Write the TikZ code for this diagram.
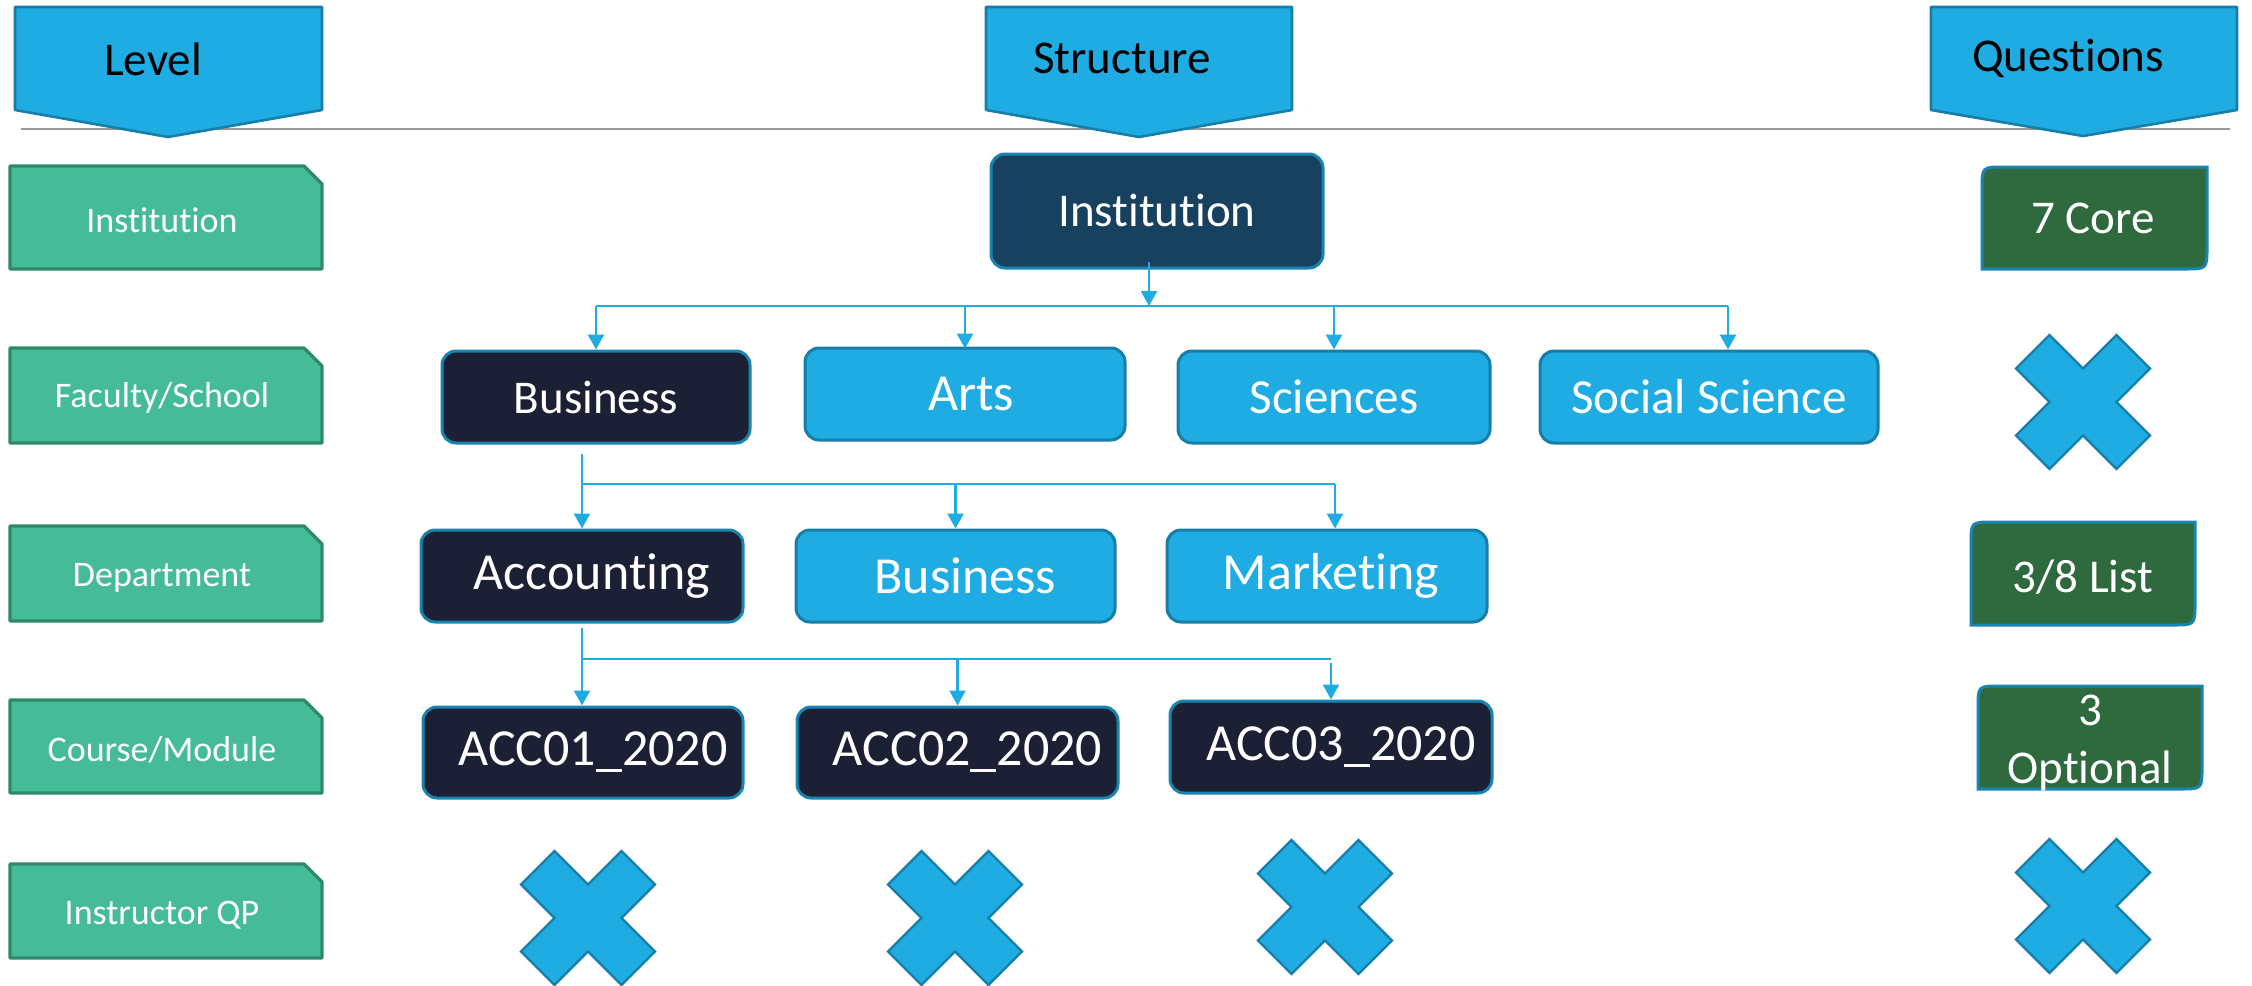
\documentclass[tikz,border=0pt]{standalone}
\usepackage{fontspec}
\setmainfont{Carlito}[RawFeature={-liga;-rlig;-clig;-calt;-dlig}]
\usetikzlibrary{arrows.meta,calc}
\newcommand{\nolig}{\kern0pt}
\definecolor{pent}{HTML}{1EACE2}
\definecolor{pentb}{HTML}{167EA8}
\definecolor{lvl}{HTML}{45BB98}
\definecolor{lvlb}{HTML}{2F8A6B}
\definecolor{instf}{HTML}{17415F}
\definecolor{navy}{HTML}{1B2034}
\definecolor{bordb}{HTML}{1A84B0}
\definecolor{qgreen}{HTML}{2F6A3E}
\definecolor{sepc}{HTML}{9A9A9A}
\begin{document}
\begin{tikzpicture}[x=0.5pt,y=-0.5pt,
  pentst/.style={fill=pent,draw=pentb,line width=1.3pt,line join=round},
  hdr/.style={text=black,font=\fontsize{23.5pt}{28pt}\selectfont,inner sep=0pt},
  lvlst/.style={fill=lvl,draw=lvlb,line width=1.6pt,line join=round},
  lvltxt/.style={text=white,font=\fontsize{18pt}{22pt}\selectfont,inner sep=0pt},
  sbox/.style={draw=bordb,line width=1.5pt,rounded corners=7pt,text=white,inner sep=0pt},
  f23/.style={font=\fontsize{23.5pt}{28pt}\selectfont},
  f24/.style={font=\fontsize{24.5pt}{29pt}\selectfont},
  f26/.style={font=\fontsize{26pt}{31pt}\selectfont},
  lightb/.style={sbox,fill=pent,draw=pentb},
  darkb/.style={sbox,fill=navy},
  ln/.style={draw=pent,line width=1.3pt},
  arr/.style={ln,-{Triangle[length=7.5pt,width=8pt]}},
  qst/.style={fill=qgreen,draw=bordb,line width=1.5pt},
  qtxt/.style={text=white,font=\fontsize{23.5pt}{28pt}\selectfont,inner sep=0pt},
  xmark/.pic={\draw[fill=pent,draw=pentb,line width=1.2pt,line join=miter]
     (-33.5,-67) -- (0,-33.5) -- (33.5,-67) -- (67,-33.5) -- (33.5,0) -- (67,33.5)
     -- (33.5,67) -- (0,33.5) -- (-33.5,67) -- (-67,33.5) -- (-33.5,0) -- (-67,-33.5) -- cycle;}
]
\useasboundingbox (0,0) rectangle (2252,985);
\fill[white] (0,0) rectangle (2252,985);

% separator
\draw[sepc,line width=1pt] (21,129) -- (2230,129);

% header pentagons
\draw[pentst] (15,7) -- (322,7) -- (322,110) -- (168,137) -- (15,110) -- cycle;
\node[hdr] (hLevel) at (153,59) {Level};
\draw[pentst] (986,7) -- (1292,7) -- (1292,110) -- (1139,137) -- (986,110) -- cycle;
\node[hdr] (hStruct) at (1122,58) {Structure};
\draw[pentst] (1931,7) -- (2237,7) -- (2237,110) -- (2083,136) -- (1931,110) -- cycle;
\node[hdr] (hQuest) at (2068,58) {Questions};

% level boxes
\draw[lvlst] (10,166) -- (304,166) -- (322,184) -- (322,269) -- (10,269) -- cycle;
\node[lvltxt] (lInst) at (162,220) {Instit\nolig ut\nolig ion};
\draw[lvlst] (10,348) -- (304,348) -- (322,366) -- (322,443) -- (10,443) -- cycle;
\node[lvltxt] (lFac) at (162,398) {Faculty/School};
\draw[lvlst] (10,526) -- (304,526) -- (322,544) -- (322,621) -- (10,621) -- cycle;
\node[lvltxt] (lDep) at (162,578) {Department};
\draw[lvlst] (10,700) -- (304,700) -- (322,718) -- (322,793) -- (10,793) -- cycle;
\node[lvltxt] (lCourse) at (162,750) {Course/Module};
\draw[lvlst] (10,864) -- (304,864) -- (322,882) -- (322,958) -- (10,958) -- cycle;
\node[lvltxt] (lInstr) at (162,915) {Instructor QP};

% structure boxes
\node[sbox,fill=instf,f23,minimum width=166pt,minimum height=57pt] (inst) at (1157,211) {Instit\nolig ut\nolig ion};
\node[darkb,f23,minimum width=154pt,minimum height=46pt] (biz) at (596,397) {Business};
\node[lightb,f26,minimum width=160pt,minimum height=46pt] (arts) at (965,394) {\hspace*{6pt}Arts};
\node[lightb,f24,minimum width=156pt,minimum height=46pt] (sci) at (1334,397) {Sciences};
\node[lightb,f24,minimum width=169pt,minimum height=46pt] (soc) at (1709,397) {Social Science};
\node[darkb,f26,minimum width=161pt,minimum height=46pt] (acc) at (582,576) {\hspace*{10pt}Account\nolig ing};
\node[lightb,f26,minimum width=159.5pt,minimum height=46pt] (bizd) at (955.5,576) {\hspace*{10pt}Business};
\node[lightb,f26,minimum width=160pt,minimum height=46pt] (mkt) at (1327,576) {\hspace*{4pt}Market\nolig ing};
\node[darkb,f26,minimum width=160pt,minimum height=45.5pt] (acc1) at (583,752.5) {\hspace*{10pt}ACC01\_2020};
\node[darkb,f26,minimum width=160.5pt,minimum height=45.5pt] (acc2) at (957.5,752.5) {\hspace*{10pt}ACC02\_2020};
\node[darkb,f26,minimum width=161pt,minimum height=46pt] (acc3) at (1331,747) {\hspace*{10pt}ACC03\_2020};

% connectors level 1
\coordinate (bus1) at (0,306);
\coordinate (i0) at ([xshift=-4pt,yshift=4pt]inst.south);
\coordinate (socin) at ([xshift=9.5pt]soc.north);
\draw[arr] (i0) -- (i0 |- bus1);
\draw[ln] (biz.north |- bus1) -- (socin |- bus1);
\draw[arr] (biz.north |- bus1) -- (biz.north);
\draw[arr] (arts.north |- bus1) -- ([yshift=-1pt]arts.north);
\draw[arr] (sci.north |- bus1) -- (sci.north);
\draw[arr] (socin |- bus1) -- (socin);

% connectors level 2
\coordinate (bus2) at (0,484);
\coordinate (bz) at ([xshift=-7pt,yshift=-4.5pt]biz.south);
\coordinate (mk) at ([xshift=4pt]mkt.north);
\draw[ln] (bz |- bus2) -- (mk |- bus2);
\draw[arr] (bz) -- (acc.north);
\draw[arr] (bizd.north |- bus2) -- (bizd.north);
\draw[arr] (mk |- bus2) -- (mk);

% connectors level 3
\coordinate (bus3) at (0,659);
\coordinate (az) at ([yshift=-2pt]acc.south);
\draw[ln] (az |- bus3) -- (acc3.north |- bus3);
\draw[arr] (az) -- (az |- acc1.north);
\draw[arr] (acc2.north |- bus3) -- (acc2.north);
\draw[arr] ([yshift=-2pt]acc3.north |- bus3) -- (acc3.north);

% question boxes
\draw[qst] (1982,269) -- (1982,189) .. controls (1982,167) .. (2004,167) -- (2207,167) -- (2207,247) .. controls (2207,269) .. (2185,269) -- cycle;
\node[qtxt] (q1) at (2093,218) {7 Core};
\draw[qst] (1971,625) -- (1971,544) .. controls (1971,522) .. (1993,522) -- (2195,522) -- (2195,603) .. controls (2195,625) .. (2173,625) -- cycle;
\node[qtxt] (q3) at (2083,577) {3/8 List};
\draw[qst] (1978,789) -- (1978,708) .. controls (1978,686) .. (2000,686) -- (2202,686) -- (2202,767) .. controls (2202,789) .. (2180,789) -- cycle;
\node[qtxt,anchor=base] (q4a) at (2090,725) {3};
\node[qtxt,anchor=base] (q4b) at (2090,783) {Opt\nolig ional};

% crosses
\pic at (2083,402) {xmark};
\pic at (588,918) {xmark};
\pic at (955,918) {xmark};
\pic at (1325,907) {xmark};
\pic at (2083,906) {xmark};
\end{tikzpicture}
\end{document}
